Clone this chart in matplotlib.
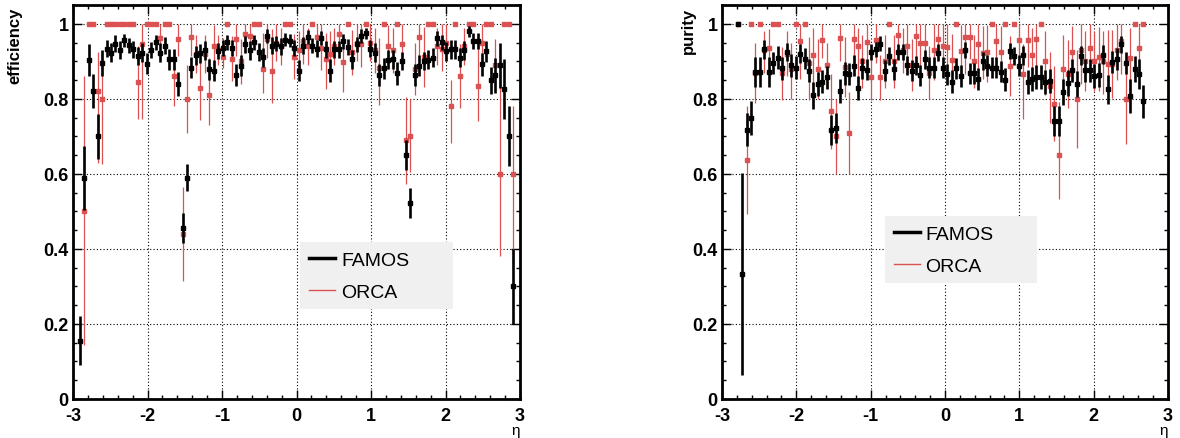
import matplotlib
matplotlib.use("Agg")
import matplotlib.pyplot as plt
import numpy as np
from matplotlib.lines import Line2D
from matplotlib.ticker import MultipleLocator

plt.rcParams["font.family"] = ["Liberation Sans", "DejaVu Sans"]
plt.rcParams["axes.unicode_minus"] = False

# 100 eta bins from -3 to 3 (None = empty bin)
eta_edges = np.linspace(-3, 3, 101)

eff_famos = [
    None, 0.155, 0.59, 0.903, 0.82, 0.70, 0.896, 0.934, 0.923, 0.947,
    0.93, 0.956, 0.943, 0.932, 0.914, 0.923, 0.894, 0.93, 0.951, 0.923,
    0.942, 0.905, 0.905, 0.84, 0.455, 0.59, 0.883, 0.916, 0.921, 0.929,
    0.879, 0.875, 0.927, 0.936, 0.951, 0.936, 0.864, 0.888, 0.945, 0.929,
    0.951, 0.925, 0.911, 0.967, 0.942, 0.947, 0.94, 0.958, 0.955, 0.936,
    0.875, 0.942, 0.965, 0.942, 0.934, 0.962, 0.932, 0.875, 0.932, 0.932,
    0.954, 0.938, 0.905, 0.945, 0.968, 0.975, 0.934, 0.923, 0.863, 0.881,
    0.904, 0.905, 0.868, 0.901, 0.651, 0.522, 0.863, 0.888, 0.901, 0.904,
    0.91, 0.962, 0.951, 0.927, 0.932, 0.932, 0.91, 0.929, 0.98, 0.954,
    0.954, 0.892, 0.927, 0.85, 0.863, 0.889, 0.826, 0.70, 0.30, None,
]
eff_famos_err = [
    0, 0.065, 0.085, 0.042, 0.045, 0.06, 0.035, 0.023, 0.025, 0.023,
    0.025, 0.018, 0.02, 0.022, 0.025, 0.025, 0.028, 0.022, 0.02, 0.025,
    0.022, 0.028, 0.028, 0.032, 0.04, 0.035, 0.028, 0.025, 0.025, 0.025,
    0.028, 0.028, 0.022, 0.022, 0.02, 0.022, 0.03, 0.028, 0.022, 0.025,
    0.02, 0.025, 0.025, 0.018, 0.022, 0.02, 0.022, 0.018, 0.018, 0.022,
    0.028, 0.022, 0.018, 0.02, 0.022, 0.018, 0.022, 0.03, 0.022, 0.022,
    0.02, 0.022, 0.025, 0.02, 0.018, 0.015, 0.022, 0.025, 0.03, 0.028,
    0.025, 0.025, 0.03, 0.025, 0.04, 0.04, 0.03, 0.028, 0.025, 0.025,
    0.025, 0.02, 0.02, 0.025, 0.025, 0.025, 0.025, 0.025, 0.015, 0.022,
    0.022, 0.03, 0.028, 0.036, 0.047, 0.06, 0.08, 0.08, 0.10, 0,
]
eff_orca = [
    None, None, 0.50, 1.0, 1.0, 0.82, 0.80, 1.0, 1.0, 1.0,
    1.0, 1.0, 1.0, 1.0, 0.846, 0.947, 1.0, 1.0, 1.0, 0.962,
    1.0, 1.0, 0.86, 0.96, 0.44, 0.80, 0.965, 0.92, 0.828, 0.92,
    0.81, 0.942, 0.93, 0.912, 1.0, 0.907, 0.96, 0.90, 0.972, 0.967,
    1.0, 1.0, 0.88, 0.96, 0.875, 0.95, 0.94, 1.0, 1.0, 0.912,
    0.93, 0.954, 0.94, 1.0, 0.965, 0.936, 0.906, 0.92, 0.94, 0.972,
    0.897, 1.0, 0.924, 0.95, 0.946, 1.0, 0.95, 0.93, 0.883, 1.0,
    0.94, 0.93, 1.0, 0.946, 0.69, 0.70, 0.88, 0.964, 0.912, 1.0,
    1.0, 0.94, 0.934, 0.95, 0.78, 1.0, 0.86, 0.94, 1.0, 1.0,
    0.835, 0.95, 1.0, 1.0, 0.89, 0.60, 1.0, 1.0, 0.60, None,
]
eff_orca_lo = [
    0, 0, 0.355, 0, 0, 0.19, 0.175, 0, 0, 0,
    0, 0, 0, 0, 0.10, 0.20, 0, 0, 0, 0.065,
    0, 0, 0.08, 0.045, 0.125, 0.09, 0.05, 0.05, 0.085, 0.05,
    0.08, 0.045, 0.04, 0.03, 0, 0.06, 0.045, 0.06, 0.05, 0.05,
    0, 0, 0.065, 0.05, 0.085, 0.05, 0.05, 0, 0, 0.06,
    0.05, 0.06, 0.05, 0, 0.05, 0.06, 0.08, 0.07, 0.05, 0.05,
    0.08, 0, 0.06, 0.05, 0.06, 0, 0.05, 0.06, 0.10, 0,
    0.06, 0.06, 0, 0.06, 0.117, 0.095, 0.07, 0.05, 0.08, 0,
    0, 0.05, 0.06, 0.05, 0.097, 0, 0.085, 0.05, 0, 0,
    0.095, 0.06, 0, 0, 0.07, 0.22, 0, 0, 0.24, 0,
]
eff_orca_hi = [
    0, 0, 0.36, 0, 0, 0.105, 0.115, 0, 0, 0,
    0, 0, 0, 0, 0.095, 0.053, 0, 0, 0, 0.038,
    0, 0, 0.065, 0.04, 0.125, 0.09, 0.035, 0.05, 0.097, 0.05,
    0.10, 0.055, 0.04, 0.05, 0, 0.06, 0.04, 0.06, 0.028, 0.033,
    0, 0, 0.095, 0.04, 0.11, 0.05, 0.05, 0, 0, 0.06,
    0.05, 0.046, 0.05, 0, 0.035, 0.064, 0.07, 0.06, 0.05, 0.028,
    0.06, 0, 0.06, 0.05, 0.054, 0, 0.05, 0.06, 0.08, 0,
    0.058, 0.06, 0, 0.054, 0.115, 0.10, 0.07, 0.036, 0.08, 0,
    0, 0.05, 0.066, 0.05, 0.07, 0, 0.085, 0.05, 0, 0,
    0.11, 0.05, 0, 0, 0.07, 0.26, 0, 0, 0.18, 0,
]

pur_famos = [
    None, None, None, 1.0, 0.333, 0.718, 0.748, 0.872, 0.872, 0.932,
    0.872, 0.895, 0.91, 0.881, 0.925, 0.889, 0.883, 0.92, 0.907, 0.875,
    0.809, 0.839, 0.846, 0.857, 0.716, 0.723, 0.822, 0.868, 0.866, 0.888,
    0.828, 0.881, 0.877, 0.925, 0.932, 0.947, 0.875, 0.914, 0.879, 0.925,
    0.925, 0.889, 0.875, 0.889, 0.863, 0.905, 0.883, 0.883, 0.923, 0.883,
    0.866, 0.846, 0.881, 0.861, 0.93, 0.868, 0.868, 0.853, 0.901, 0.888,
    0.883, 0.883, 0.872, 0.851, 0.927, 0.914, 0.888, 0.916, 0.846, 0.853,
    0.857, 0.857, 0.846, 0.848, 0.742, 0.742, 0.818, 0.842, 0.876, 0.84,
    0.915, 0.876, 0.876, 0.862, 0.864, 0.918, 0.825, 0.898, 0.906, 0.945,
    0.896, 0.808, 0.88, 0.867, 0.793, None, None, None, None, None,
]
pur_famos_err = [
    0, 0, 0, 0, 0.27, 0.045, 0.045, 0.04, 0.04, 0.025,
    0.04, 0.03, 0.03, 0.03, 0.025, 0.03, 0.03, 0.025, 0.028, 0.03,
    0.035, 0.032, 0.03, 0.03, 0.04, 0.04, 0.032, 0.03, 0.03, 0.028,
    0.032, 0.028, 0.028, 0.022, 0.02, 0.02, 0.028, 0.025, 0.028, 0.022,
    0.022, 0.025, 0.028, 0.025, 0.028, 0.025, 0.028, 0.028, 0.022, 0.028,
    0.028, 0.03, 0.028, 0.03, 0.022, 0.028, 0.028, 0.03, 0.025, 0.028,
    0.028, 0.028, 0.028, 0.03, 0.022, 0.025, 0.028, 0.025, 0.032, 0.032,
    0.032, 0.032, 0.032, 0.032, 0.04, 0.04, 0.035, 0.035, 0.03, 0.035,
    0.025, 0.03, 0.03, 0.032, 0.032, 0.025, 0.038, 0.03, 0.03, 0.022,
    0.03, 0.045, 0.035, 0.04, 0.045, 0, 0, 0, 0, 0,
]
pur_orca = [
    None, None, None, 1.0, None, 0.638, 1.0, 0.87, 1.0, 0.93,
    0.935, 1.0, 1.0, 0.868, 0.92, 0.88, 1.0, 0.954, 1.0, 0.896,
    0.918, 0.88, 0.958, 0.889, 0.767, 0.70, 0.962, 0.885, 0.709, 0.96,
    0.94, 0.90, 0.951, 0.857, 0.956, 0.857, 0.90, 1.0, 0.90, 0.971,
    0.93, 0.94, 0.89, 0.968, 0.949, 0.949, 0.87, 0.93, 0.96, 0.94,
    0.939, 0.903, 1.0, 0.927, 0.965, 0.965, 0.90, 0.947, 0.923, 0.926,
    1.0, 0.954, 0.925, 1.0, 0.888, 1.0, 0.956, 0.866, 0.956, 0.918,
    0.96, 1.0, 0.90, 0.835, 0.787, 0.651, 0.88, 0.866, 0.925, 0.80,
    0.929, 0.90, 0.935, 0.90, 0.912, 0.902, 0.893, 0.893, 0.93, 0.955,
    0.80, 0.91, 1.0, 0.935, 1.0, None, None, None, None, None,
]
pur_orca_lo = [
    0, 0, 0, 0, 0, 0.145, 0, 0.08, 0, 0.06,
    0.06, 0, 0, 0.07, 0.06, 0.08, 0, 0.1, 0, 0.1,
    0.08, 0.08, 0.05, 0.06, 0.10, 0.1, 0.06, 0.08, 0.11, 0.06,
    0.1, 0.07, 0.05, 0.06, 0.06, 0.06, 0.07, 0, 0.07, 0.06,
    0.06, 0.07, 0.07, 0.06, 0.07, 0.07, 0.07, 0.08, 0.06, 0.07,
    0.08, 0.07, 0, 0.07, 0.1, 0.06, 0.07, 0.08, 0.07, 0.08,
    0, 0.06, 0.08, 0, 0.08, 0, 0.06, 0.12, 0.07, 0.09,
    0.09, 0, 0.09, 0.1, 0.1, 0.118, 0.09, 0.09, 0.08, 0.13,
    0.09, 0.08, 0.09, 0.08, 0.09, 0.09, 0.09, 0.09, 0.08, 0.09,
    0.12, 0.09, 0, 0.08, 0, 0, 0, 0, 0, 0,
]
pur_orca_hi = [
    0, 0, 0, 0, 0, 0.142, 0, 0.08, 0, 0.05,
    0.05, 0, 0, 0.07, 0.06, 0.07, 0, 0.046, 0, 0.07,
    0.07, 0.08, 0.042, 0.06, 0.10, 0.1, 0.038, 0.08, 0.11, 0.04,
    0.05, 0.07, 0.049, 0.07, 0.044, 0.06, 0.07, 0, 0.07, 0.029,
    0.06, 0.06, 0.07, 0.032, 0.051, 0.051, 0.07, 0.07, 0.04, 0.06,
    0.061, 0.07, 0, 0.07, 0.035, 0.035, 0.07, 0.053, 0.07, 0.07,
    0, 0.046, 0.07, 0, 0.08, 0, 0.044, 0.08, 0.044, 0.07,
    0.04, 0, 0.08, 0.09, 0.1, 0.14, 0.09, 0.09, 0.07, 0.13,
    0.07, 0.08, 0.065, 0.08, 0.08, 0.08, 0.09, 0.09, 0.07, 0.045,
    0.12, 0.08, 0, 0.065, 0, 0, 0, 0, 0, 0,
]

series_labels = ["FAMOS", "ORCA"]
ytick_labels = ["0", "0.2", "0.4", "0.6", "0.8", "1"]

RED = "#dc5252"
W, H = 1180, 439


def draw_panel(ax, famos, famos_err, orca, orca_lo, orca_hi, ylabel, ylab_x, leg_box):
    eta = 0.5 * (eta_edges[:-1] + eta_edges[1:])
    f = np.array(famos, dtype=float)
    o = np.array(orca, dtype=float)
    ax.errorbar(eta, o, yerr=[orca_lo, orca_hi], fmt="s", ms=3.2, color=RED,
                ecolor=RED, elinewidth=0.9, capsize=0, zorder=3)
    ax.errorbar(eta, f, yerr=famos_err, fmt="s", ms=3.5, color="black",
                ecolor="black", elinewidth=1.9, capsize=0, zorder=4)

    ax.set_xlim(-3, 3)
    ax.set_ylim(0, 1.05)
    ax.set_xticks(range(-3, 4), labels=[str(v) for v in range(-3, 4)],
                  fontweight="bold", fontsize=13)
    ax.set_yticks(np.arange(6) * 0.2, labels=ytick_labels,
                  fontweight="bold", fontsize=13)
    ax.xaxis.set_minor_locator(MultipleLocator(0.2))
    ax.yaxis.set_minor_locator(MultipleLocator(0.05))
    ax.tick_params(which="both", direction="in", top=True, right=True, width=1)
    ax.tick_params(which="major", length=6.5, pad=3)
    ax.tick_params(which="minor", length=3.2)
    ax.tick_params(axis="x", pad=5.5)
    for s in ax.spines.values():
        s.set_linewidth(2)
    ax.grid(True, which="major", color="black", linestyle=(0, (1, 2)), linewidth=0.8)
    ax.set_axisbelow(True)

    ax.set_ylabel(ylabel, loc="top", fontweight="bold", fontsize=12)
    ax.yaxis.set_label_coords(ylab_x, 0.995)
    ax.set_xlabel("η", loc="right", fontsize=11)
    ax.xaxis.set_label_coords(1.0, -0.06)

    handles = [Line2D([], [], color="black", lw=2.5), Line2D([], [], color=RED, lw=1)]
    leg = ax.legend(handles, series_labels, loc="upper left", bbox_to_anchor=leg_box,
                    mode="expand", fontsize=14, frameon=True, fancybox=False,
                    borderpad=0.45, labelspacing=0.75, handlelength=1.35,
                    handletextpad=0.3, borderaxespad=0)
    leg.get_frame().set_facecolor("#f0f0f0")
    leg.get_frame().set_edgecolor("none")
    leg.get_frame().set_alpha(1)


fig = plt.figure(figsize=(W / 100, H / 100), dpi=100)
ax1 = fig.add_axes([73 / W, 39 / H, 447 / W, 394 / H])
ax2 = fig.add_axes([722 / W, 39 / H, 446 / W, 394 / H])

draw_panel(ax1, eff_famos, eff_famos_err, eff_orca, eff_orca_lo, eff_orca_hi,
           "efficiency", -0.114, (0.508, 0.234, 0.342, 0.164))
draw_panel(ax2, pur_famos, pur_famos_err, pur_orca, pur_orca_lo, pur_orca_hi,
           "purity", -0.058, (0.365, 0.297, 0.341, 0.167))

fig.savefig("out.png", dpi=100)
